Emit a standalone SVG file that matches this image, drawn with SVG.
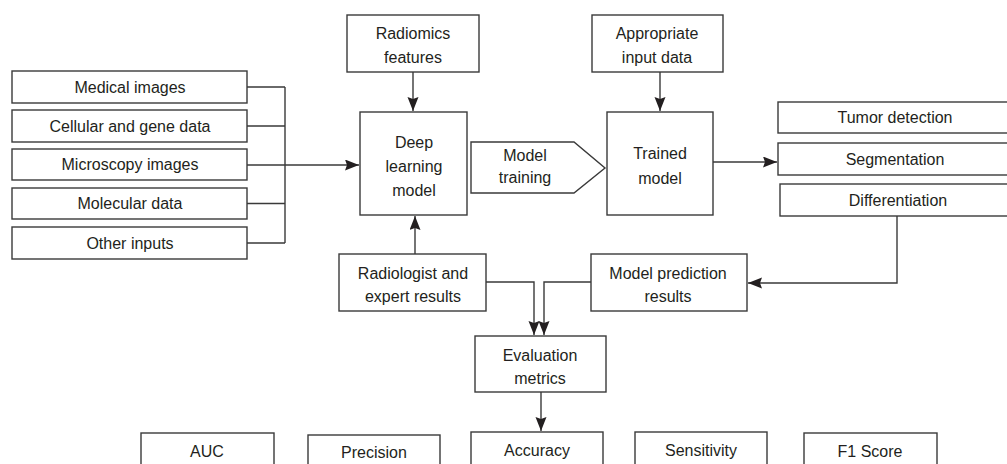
<svg xmlns="http://www.w3.org/2000/svg" width="1007" height="464" viewBox="0 0 1007 464">
<style>
.box{fill:#fff;stroke:#3a3a3a;stroke-width:1.4}
.t{font-family:"Liberation Sans",Arial,sans-serif;font-size:16px;fill:#231f20;text-anchor:middle}
.c{fill:none;stroke:#3a3a3a;stroke-width:1.4}
</style>
<defs>
<marker id="ah" markerUnits="userSpaceOnUse" markerWidth="15" markerHeight="12" refX="14" refY="5.5" orient="auto">
<path d="M0,0 L14,5.5 L0,11 L2,5.5 Z" fill="#231f20"/>
</marker>
</defs>
<rect width="1007" height="464" fill="#fff"/>
<g id="connectors">
<path class="c" d="M247,87 H285 M247,126 H285 M247,203.5 H285 M247,243 H285 M285,87 V243"/>
<path class="c" d="M247,165 H359" marker-end="url(#ah)"/>
<path class="c" d="M413,72 V111" marker-end="url(#ah)"/>
<path class="c" d="M660,72 V111" marker-end="url(#ah)"/>
<path class="c" d="M713,162 H777" marker-end="url(#ah)"/>
<path class="c" d="M415,254 V216" marker-end="url(#ah)"/>
<path class="c" d="M486,282 H534 V335" marker-end="url(#ah)"/>
<path class="c" d="M591,282 H544 V335" marker-end="url(#ah)"/>
<path class="c" d="M897,216 V283 H748" marker-end="url(#ah)"/>
<path class="c" d="M541,392 V431" marker-end="url(#ah)"/>
</g>
<g id="n-medical"><rect class="box" x="12" y="71" width="235" height="32"/><text class="t" x="130" y="93">Medical images</text></g>
<g id="n-cellular"><rect class="box" x="12" y="110" width="235" height="32"/><text class="t" x="130" y="132">Cellular and gene data</text></g>
<g id="n-microscopy"><rect class="box" x="12" y="149" width="235" height="31"/><text class="t" x="130" y="170">Microscopy images</text></g>
<g id="n-molecular"><rect class="box" x="12" y="188" width="235" height="31"/><text class="t" x="130" y="209">Molecular data</text></g>
<g id="n-other"><rect class="box" x="12" y="227" width="235" height="32"/><text class="t" x="130" y="249">Other inputs</text></g>
<g id="n-radiomics"><rect class="box" x="347" y="15" width="132" height="57"/><text class="t" x="413" y="39">Radiomics</text><text class="t" x="413" y="63">features</text></g>
<g id="n-deep"><rect class="box" x="360" y="112" width="107" height="103"/><text class="t" x="414" y="148">Deep</text><text class="t" x="414" y="172">learning</text><text class="t" x="414" y="196">model</text></g>
<g id="n-training"><path class="box" d="M471,142 H574 L605,168 L574,193 H471 Z"/><text class="t" x="525" y="161">Model</text><text class="t" x="525" y="183">training</text></g>
<g id="n-appropriate"><rect class="box" x="592" y="15" width="131" height="57"/><text class="t" x="657" y="39">Appropriate</text><text class="t" x="657" y="63">input data</text></g>
<g id="n-trained"><rect class="box" x="607" y="112" width="106" height="103"/><text class="t" x="660" y="159">Trained</text><text class="t" x="660" y="184">model</text></g>
<g id="n-tumor"><rect class="box" x="778" y="102" width="234" height="31"/><text class="t" x="895" y="123">Tumor detection</text></g>
<g id="n-segmentation"><rect class="box" x="778" y="143" width="234" height="32"/><text class="t" x="895" y="165">Segmentation</text></g>
<g id="n-differentiation"><rect class="box" x="780" y="184" width="232" height="32"/><text class="t" x="898" y="206">Differentiation</text></g>
<g id="n-radiologist"><rect class="box" x="339" y="254" width="147" height="57"/><text class="t" x="413" y="279">Radiologist and</text><text class="t" x="413" y="302">expert results</text></g>
<g id="n-prediction"><rect class="box" x="591" y="254" width="156" height="57"/><text class="t" x="668" y="279">Model prediction</text><text class="t" x="668" y="302">results</text></g>
<g id="n-evaluation"><rect class="box" x="475" y="336" width="131" height="56"/><text class="t" x="540" y="361">Evaluation</text><text class="t" x="540" y="384">metrics</text></g>
<g id="n-auc"><rect class="box" x="141" y="433" width="133" height="40"/><text class="t" x="207" y="457">AUC</text></g>
<g id="n-precision"><rect class="box" x="308" y="435" width="132" height="40"/><text class="t" x="374" y="458">Precision</text></g>
<g id="n-accuracy"><rect class="box" x="471" y="432" width="132" height="40"/><text class="t" x="537" y="456">Accuracy</text></g>
<g id="n-sensitivity"><rect class="box" x="635" y="432" width="132" height="40"/><text class="t" x="701" y="456">Sensitivity</text></g>
<g id="n-f1"><rect class="box" x="804" y="433" width="133" height="40"/><text class="t" x="870" y="457">F1 Score</text></g>
</svg>
